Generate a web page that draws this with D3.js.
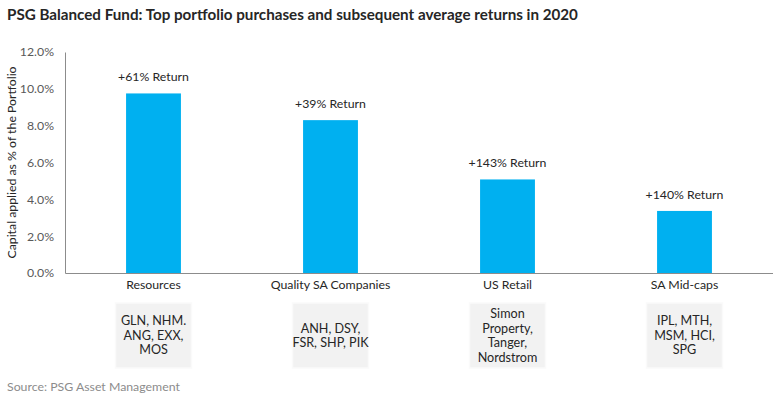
<!DOCTYPE html>
<html lang="en">
<head>
<meta charset="utf-8"/>
<title>PSG Balanced Fund</title>
<script src="https://d3js.org/d3.v7.min.js"></script>
<style>
  body { margin: 0; background: #fff; }
  text { font-family: Lato, "Open Sans", sans-serif; }
</style>
</head>
<body>
<script>
// chart data
var categories = ["Resources", "Quality SA Companies", "US Retail", "SA Mid-caps"];
var capital = [9.75, 8.3, 5.08, 3.37];           // % of portfolio
var returns = ["+61% Return", "+39% Return", "+143% Return", "+140% Return"];
var holdings = [
    ["GLN, NHM.", "ANG, EXX,", "MOS"],
    ["ANH, DSY,", "FSR, SHP, PIK"],
    ["Simon", "Property,", "Tanger,", "Nordstrom"],
    ["IPL, MTH,", "MSM, HCI,", "SPG"]
];
var yTicks = [0, 2, 4, 6, 8, 10, 12];

var w = 773, h = 397;
// plot area edges (avoid the name "top", which is window.top)
var plotLeft = 65, plotRight = 773, plotTop = 52, plotBottom = 273;

var svg = d3.select("body").append("svg")
    .attr("width", w)
    .attr("height", h);

// title
svg.append("text")
    .attr("x", 7).attr("y", 20)
    .style("font-size", "15.2px").style("font-weight", "bold")
    .style("fill", "#262626")
    .text("PSG Balanced Fund: Top portfolio purchases and subsequent average returns in 2020");

var xScale = d3.scaleBand()
    .domain(categories)
    .range([plotLeft, plotRight])
    .paddingInner(0.69)
    .paddingOuter(0.345);

var yScale = d3.scaleLinear()
    .domain([0, 12])
    .range([plotBottom, plotTop]);

// y-axis
var yAxis = svg.append("g")
    .attr("transform", "translate(" + plotLeft + ",0)")
    .call(d3.axisLeft(yScale).tickValues(yTicks).tickSize(0).tickPadding(11)
        .tickFormat(function(d) { return d.toFixed(1) + "%"; }));
yAxis.select(".domain").attr("stroke", "#8c8c8c");
yAxis.selectAll("text").style("font-size", "12.3px").style("fill", "#595959")
    .style("font-family", "Lato, sans-serif");

// x-axis
var xAxis = svg.append("g")
    .attr("transform", "translate(0," + plotBottom + ")")
    .call(d3.axisBottom(xScale).tickSize(0).tickPadding(7));
xAxis.select(".domain").attr("stroke", "#8c8c8c");
xAxis.selectAll("text").style("font-size", "12.3px").style("fill", "#262626")
    .style("font-family", "Lato, sans-serif");

// y title
svg.append("text")
    .attr("transform", "translate(16," + ((plotTop + plotBottom) / 2) + ") rotate(-90)")
    .attr("text-anchor", "middle")
    .style("font-size", "12.3px").style("fill", "#262626")
    .text("Capital applied as % of the Portfolio");

// bars
svg.selectAll("rect.bar")
    .data(categories)
    .enter()
    .append("rect")
    .attr("class", "bar")
    .attr("x", function(d) { return xScale(d); })
    .attr("y", function(d, i) { return yScale(capital[i]); })
    .attr("width", xScale.bandwidth())
    .attr("height", function(d, i) { return plotBottom - yScale(capital[i]); })
    .style("fill", "#00b0f0");

// return labels
svg.selectAll("text.ret")
    .data(categories)
    .enter()
    .append("text")
    .attr("class", "ret")
    .attr("x", function(d) { return xScale(d) + xScale.bandwidth() / 2; })
    .attr("y", function(d, i) { return yScale(capital[i]) - 12; })
    .attr("text-anchor", "middle")
    .style("font-size", "12.3px").style("fill", "#262626")
    .text(function(d, i) { return returns[i]; });

// holdings boxes
var boxW = 76, boxTop = 303, boxH = 65, lineH = 14.5;
var boxes = svg.selectAll("g.box")
    .data(categories)
    .enter()
    .append("g")
    .attr("class", "box")
    .attr("transform", function(d) {
        return "translate(" + (xScale(d) + xScale.bandwidth() / 2) + "," + boxTop + ")";
    });

boxes.append("rect")
    .attr("x", -boxW / 2).attr("y", 0)
    .attr("width", boxW).attr("height", boxH)
    .style("fill", "#f2f2f2")
    .style("stroke", "#fafafa")
    .style("stroke-width", 1.5);

boxes.each(function(d, i) {
    var lines = holdings[i];
    var start = boxH / 2 - (lines.length - 1) * lineH / 2;
    d3.select(this).selectAll("text")
        .data(lines)
        .enter()
        .append("text")
        .attr("x", 0)
        .attr("y", function(l, j) { return start + j * lineH; })
        .attr("dy", "0.35em")
        .attr("text-anchor", "middle")
        .style("font-size", "12.6px").style("fill", "#262626")
        .text(function(l) { return l; });
});

// source
svg.append("text")
    .attr("x", 7).attr("y", 391)
    .style("font-size", "12.3px").style("fill", "#8c8c8c")
    .text("Source: PSG Asset Management");
</script>
</body>
</html>
